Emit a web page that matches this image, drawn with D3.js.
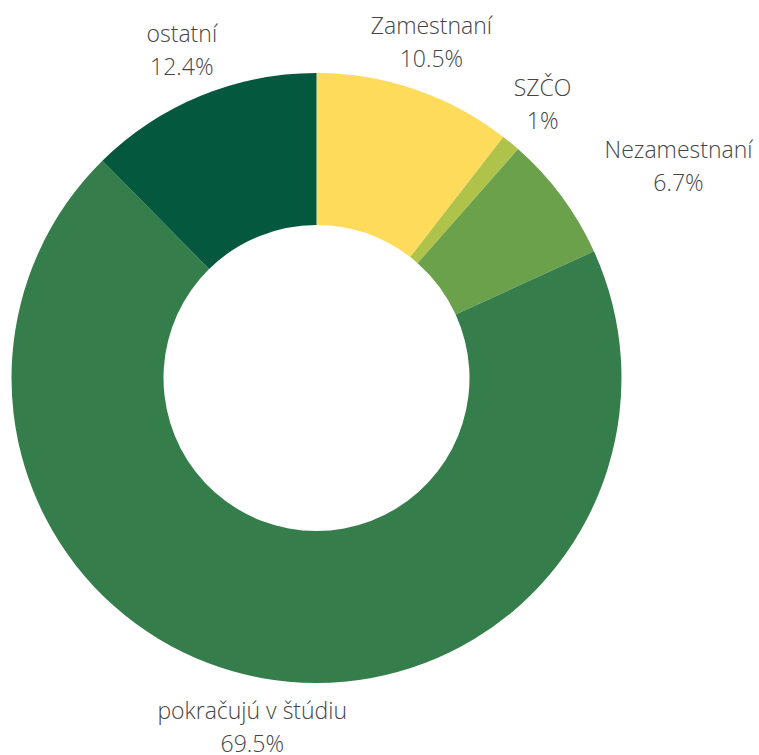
<!DOCTYPE html>
<html>
<head>
    <meta charset="utf-8">
    <title>Donut</title>
    <script src="https://cdn.jsdelivr.net/npm/d3@7"></script>
    <style>
        body { margin: 0; background: #fff; }
        .label { font-family: "Open Sans", sans-serif; font-weight: 300; font-size: 23px; fill: #454545; }
    </style>
</head>
<body>
    <div id="chart"></div>
    <script>
        // slices, clockwise from 12 o'clock
        const categories = ["Zamestnaní", "SZČO", "Nezamestnaní", "pokračujú v štúdiu", "ostatní"];
        const values = [10.5, 1, 6.7, 69.5, 12.4];
        const valueLabels = ["10.5%", "1%", "6.7%", "69.5%", "12.4%"];
        const colors = ["#fedb5a", "#afc34a", "#6ca14c", "#357e4b", "#04583e"];

        const width = 759, height = 755;
        const cx = 316.5, cy = 378;
        const outerR = 305, innerR = 153, labelR = 355;

        const svg = d3.select("#chart").append("svg")
            .attr("width", width)
            .attr("height", height);

        const g = svg.append("g").attr("transform", `translate(${cx},${cy})`);

        const data = categories.map((c, i) => ({name: c, value: values[i], label: valueLabels[i]}));

        const pie = d3.pie().sort(null).value(d => d.value);
        const arc = d3.arc().innerRadius(innerR).outerRadius(outerR);
        const labelArc = d3.arc().innerRadius(labelR).outerRadius(labelR);

        const color = d3.scaleOrdinal().domain(categories).range(colors);

        const arcs = pie(data);

        g.selectAll("path")
            .data(arcs)
            .join("path")
            .attr("d", arc)
            .attr("fill", d => color(d.data.name));

        // label for Nezamestnaní is pushed right to avoid SZČO
        const nudge = {"Nezamestnaní": 77};

        const labels = g.selectAll("text.label")
            .data(arcs)
            .join("text")
            .attr("class", "label")
            .attr("text-anchor", "middle")
            .attr("transform", d => {
                const [x, y] = labelArc.centroid(d);
                return `translate(${x + (nudge[d.data.name] || 0)},${y})`;
            });

        labels.append("tspan").attr("x", 0).attr("y", -8).text(d => d.data.name);
        labels.append("tspan").attr("x", 0).attr("y", 25).text(d => d.data.label);
    </script>
</body>
</html>
